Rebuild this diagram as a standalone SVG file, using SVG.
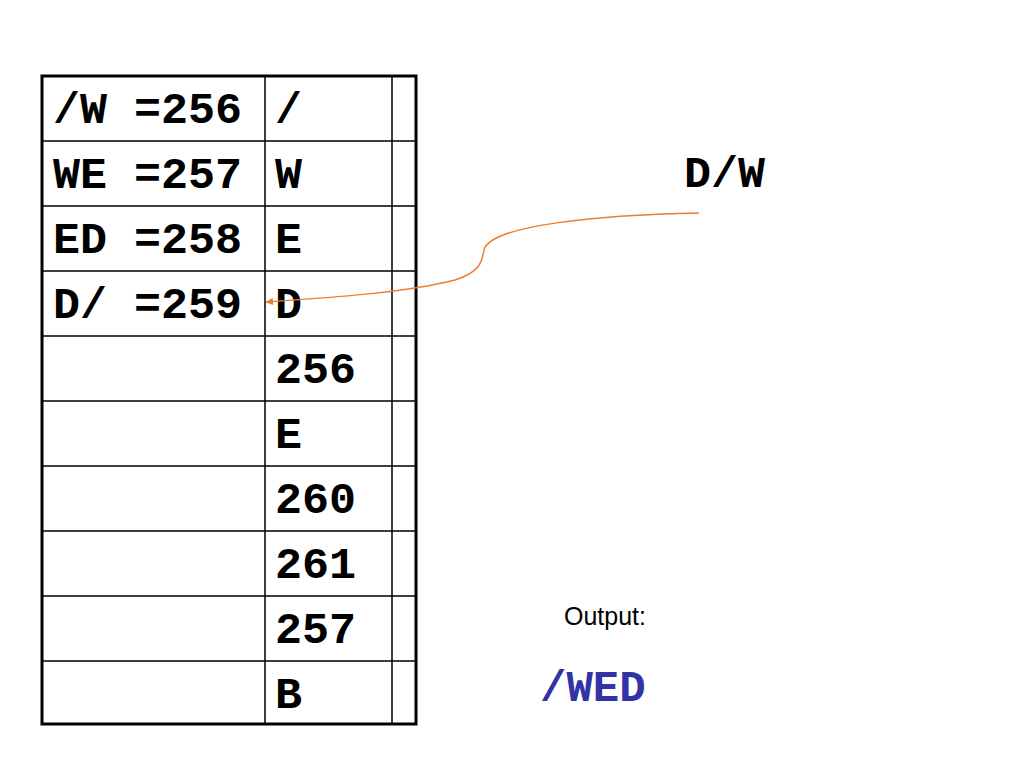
<svg xmlns="http://www.w3.org/2000/svg" width="1024" height="768" viewBox="0 0 1024 768">
<style>
.m{font-family:"Liberation Mono","Courier New",monospace;font-weight:bold;font-size:45px;fill:#000}
.g{stroke:#000;stroke-width:1.5;fill:none}
.o{stroke:#000;stroke-width:3;fill:none}
</style>
<defs>
<marker id="ah" markerWidth="8" markerHeight="8" refX="7" refY="4" orient="auto" markerUnits="userSpaceOnUse">
<path d="M0,0.5 L8,4 L0,7.5 Z" fill="#ED7D31"/>
</marker>
</defs>
<rect width="1024" height="768" fill="#fff"/>
<g id="table">
<path class="g" d="M265,76V725M392,76V725M42,141H416M42,206H416M42,271H416M42,336H416M42,401H416M42,466H416M42,531H416M42,596H416M42,661H416"/>
<rect class="o" x="42" y="76" width="374" height="648"/>
<text class="m" x="53" y="123">/W =256</text>
<text class="m" x="53" y="188">WE =257</text>
<text class="m" x="53" y="253">ED =258</text>
<text class="m" x="53" y="318">D/ =259</text>
<text class="m" x="275" y="123">/</text>
<text class="m" x="275" y="188">W</text>
<text class="m" x="275" y="253">E</text>
<text class="m" x="275" y="318">D</text>
<text class="m" x="275" y="383">256</text>
<text class="m" x="275" y="448">E</text>
<text class="m" x="275" y="513">260</text>
<text class="m" x="275" y="578">261</text>
<text class="m" x="275" y="643">257</text>
<text class="m" x="275" y="708">B</text>
</g>
<g id="input">
<text class="m" x="684" y="187">D/W</text>
</g>
<g id="output">
<text x="564" y="625" font-family="Liberation Sans,Arial,sans-serif" font-size="25" fill="#000">Output:</text>
<text class="m" x="540" y="701" style="fill:#3333A6;font-size:44px">/WED</text>
</g>
<g id="connectors">
<path d="M699,213 C600,215 490,225 484,250 C482,262 480,272 455,280 C400,294 320,298 266,302" fill="none" stroke="#ED7D31" stroke-width="1.5" marker-end="url(#ah)"/>
</g>
</svg>
